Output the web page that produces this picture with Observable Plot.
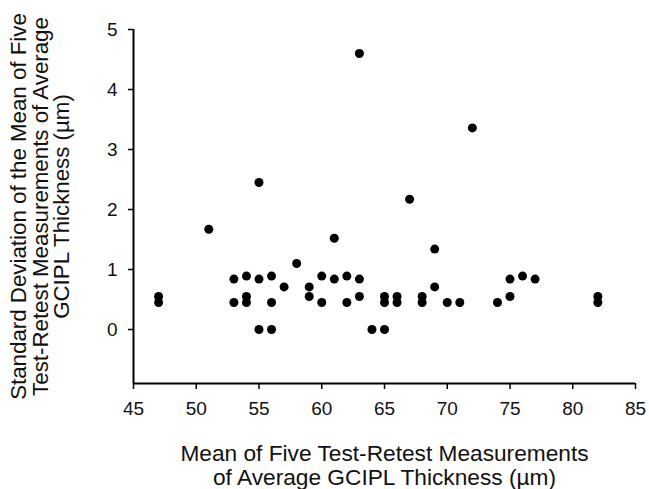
<!DOCTYPE html>
<html>
<head>
<meta charset="utf-8">
<script src="https://cdn.jsdelivr.net/npm/d3@7"></script>
<script src="https://cdn.jsdelivr.net/npm/@observablehq/plot@0.6"></script>
<style>
  html, body { margin: 0; padding: 0; background: #fff; }
  svg { display: block; }
</style>
</head>
<body>
<div id="chart"></div>
<script>
// Mean of five measurements (µm)
const meanValues = [47, 47, 51, 53, 53, 54, 54, 54, 55, 55, 55, 56, 56, 56, 57, 58, 59, 59, 60, 60,
  61, 61, 62, 62, 63, 63, 63, 64, 65, 65, 65, 66, 66, 67, 68, 68, 69, 69, 70, 71, 72, 74, 75, 75, 76, 77, 82, 82];
// Standard deviation (µm)
const sdValues = [0.55, 0.45, 1.67, 0.84, 0.45, 0.89, 0.55, 0.45, 2.45, 0.84, 0, 0.89, 0.45, 0, 0.71, 1.10, 0.71, 0.55, 0.89, 0.45,
  1.52, 0.84, 0.89, 0.45, 4.60, 0.84, 0.55, 0, 0.55, 0.45, 0, 0.55, 0.45, 2.17, 0.55, 0.45, 1.34, 0.71, 0.45, 0.45, 3.36, 0.45, 0.84, 0.55, 0.89, 0.84, 0.55, 0.45];

const xTicks = [45, 50, 55, 60, 65, 70, 75, 80, 85];
const yTicks = [0, 1, 2, 3, 4, 5];
const xTitle = "Mean of Five Test-Retest Measurements\nof Average GCIPL Thickness (µm)";
const yTitle = "Standard Deviation of the Mean of Five\nTest-Retest Measurements of Average\nGCIPL Thickness (µm)";

const data = meanValues.map((m, i) => ({mean: m, sd: sdValues[i]}));

const font = "Liberation Sans, Arial, sans-serif";

const chart = Plot.plot({
  width: 649,
  height: 489,
  marginLeft: 133,
  marginRight: 14,
  marginTop: 29,
  marginBottom: 106,
  style: {fontFamily: font, fontSize: "19px", color: "#000", background: "#fff", overflow: "visible"},
  x: {domain: [45, 85], axis: null},
  y: {domain: [-0.9, 5], axis: null},
  marks: [
    Plot.axisX({ticks: xTicks, tickSize: 6, tickPadding: 12, tickFormat: d => d, fontSize: 19, label: null, strokeWidth: 1.5, fill: "#111"}),
    Plot.axisY({ticks: yTicks, tickSize: 5, tickPadding: 11, tickFormat: d => d, fontSize: 19, label: null, strokeWidth: 1.5, fill: "#111"}),
    Plot.ruleY([-0.9], {stroke: "#000", strokeWidth: 2}),
    Plot.ruleX([45], {stroke: "#000", strokeWidth: 2}),
    Plot.dot(data, {x: "mean", y: "sd", r: 4.5, fill: "#000", stroke: "none"}),
    Plot.text([xTitle], {frameAnchor: "bottom", lineAnchor: "middle", textAnchor: "middle", dy: 82, fontSize: 22.7, lineHeight: 1.03, fill: "#111"}),
    Plot.text([yTitle], {frameAnchor: "left", lineAnchor: "middle", textAnchor: "middle", dx: -93, dy: 0, rotate: -90, fontSize: 22.3, lineHeight: 0.98, fill: "#111"})
  ]
});
document.getElementById("chart").appendChild(chart);
</script>
</body>
</html>
